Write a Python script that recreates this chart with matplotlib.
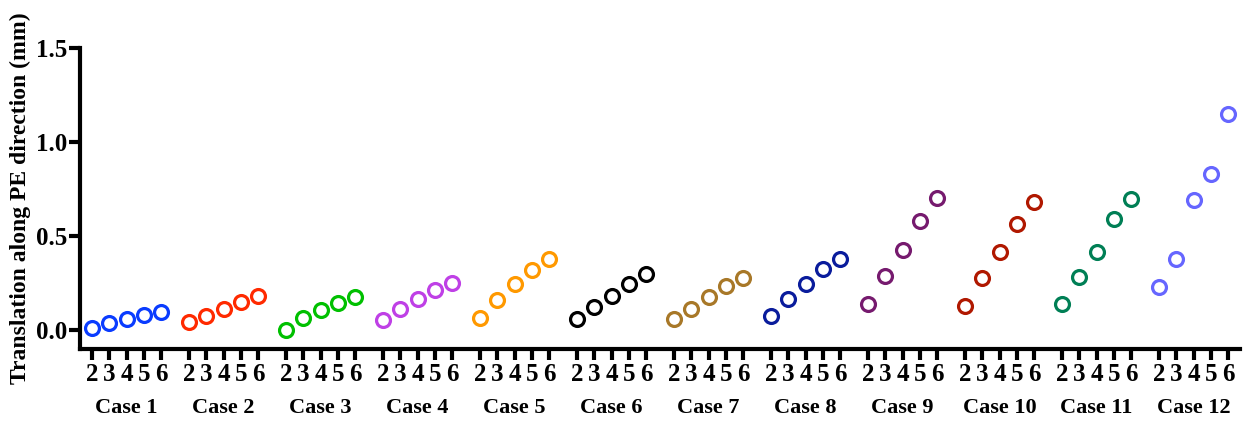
import matplotlib.pyplot as plt
from matplotlib.transforms import blended_transform_factory

cases = ['Case 1', 'Case 2', 'Case 3', 'Case 4', 'Case 5', 'Case 6',
         'Case 7', 'Case 8', 'Case 9', 'Case 10', 'Case 11', 'Case 12']
sub_labels = ['2', '3', '4', '5', '6']

values = [
    [0.01, 0.036, 0.062, 0.083, 0.097],
    [0.044, 0.076, 0.113, 0.149, 0.181],
    [0.0, 0.065, 0.106, 0.147, 0.176],
    [0.055, 0.115, 0.168, 0.213, 0.252],
    [0.066, 0.16, 0.243, 0.319, 0.379],
    [0.062, 0.124, 0.183, 0.245, 0.298],
    [0.057, 0.113, 0.179, 0.234, 0.28],
    [0.076, 0.165, 0.248, 0.324, 0.378],
    [0.137, 0.289, 0.427, 0.578, 0.704],
    [0.128, 0.277, 0.415, 0.566, 0.684],
    [0.137, 0.284, 0.415, 0.589, 0.699],
    [0.229, 0.378, 0.693, 0.831, 1.151],
]

colors = ['#0a3cff', '#ff2a00', '#00c000', '#bf40e6', '#ff9900', '#000000',
          '#a87828', '#0a1c9c', '#761a6e', '#b01800', '#007f55', '#6666ff']

plt.rcParams['font.family'] = ['Liberation Serif', 'DejaVu Serif']
plt.rcParams['font.weight'] = 'bold'

fig = plt.figure(figsize=(12.49, 4.21), dpi=100)
ax = fig.add_axes([0.064, 0.171, 0.929, 0.715])

period = 5.62
xticks = []
xlabels = []
for i, (name, vals, c) in enumerate(zip(cases, values, colors)):
    xs = [i * period + j for j in range(len(vals))]
    ax.plot(xs, vals, linestyle='none', marker='o', markersize=10,
            markerfacecolor='white', markeredgecolor=c, markeredgewidth=2.3)
    xticks += xs
    xlabels += sub_labels

trans = blended_transform_factory(ax.transData, ax.transAxes)
for i, name in enumerate(cases):
    ax.text(i * period + 2, -0.196, name, transform=trans, ha='center', va='center',
            fontsize=16, fontweight='bold')

ax.set_xlim(-0.7, 11 * period + 4 + 0.7)
ax.set_ylim(-0.1, 1.5)
ax.set_yticks([0.0, 0.5, 1.0, 1.5])
ax.set_yticklabels(['0.0', '0.5', '1.0', '1.5'])
ax.set_xticks(xticks)
ax.set_xticklabels(xlabels)
ax.tick_params(axis='both', width=3, length=8, labelsize=18, direction='out')
ax.tick_params(axis='x', pad=2)
ax.tick_params(axis='y', pad=1)
for lab in ax.get_xticklabels() + ax.get_yticklabels():
    lab.set_fontweight('bold')

ax.spines['top'].set_visible(False)
ax.spines['right'].set_visible(False)
ax.spines['left'].set_linewidth(3)
ax.spines['bottom'].set_linewidth(3)

ax.set_ylabel('Translation along PE direction (mm)', fontsize=17, fontweight='bold', labelpad=4)

fig.savefig('out.png', dpi=100)
